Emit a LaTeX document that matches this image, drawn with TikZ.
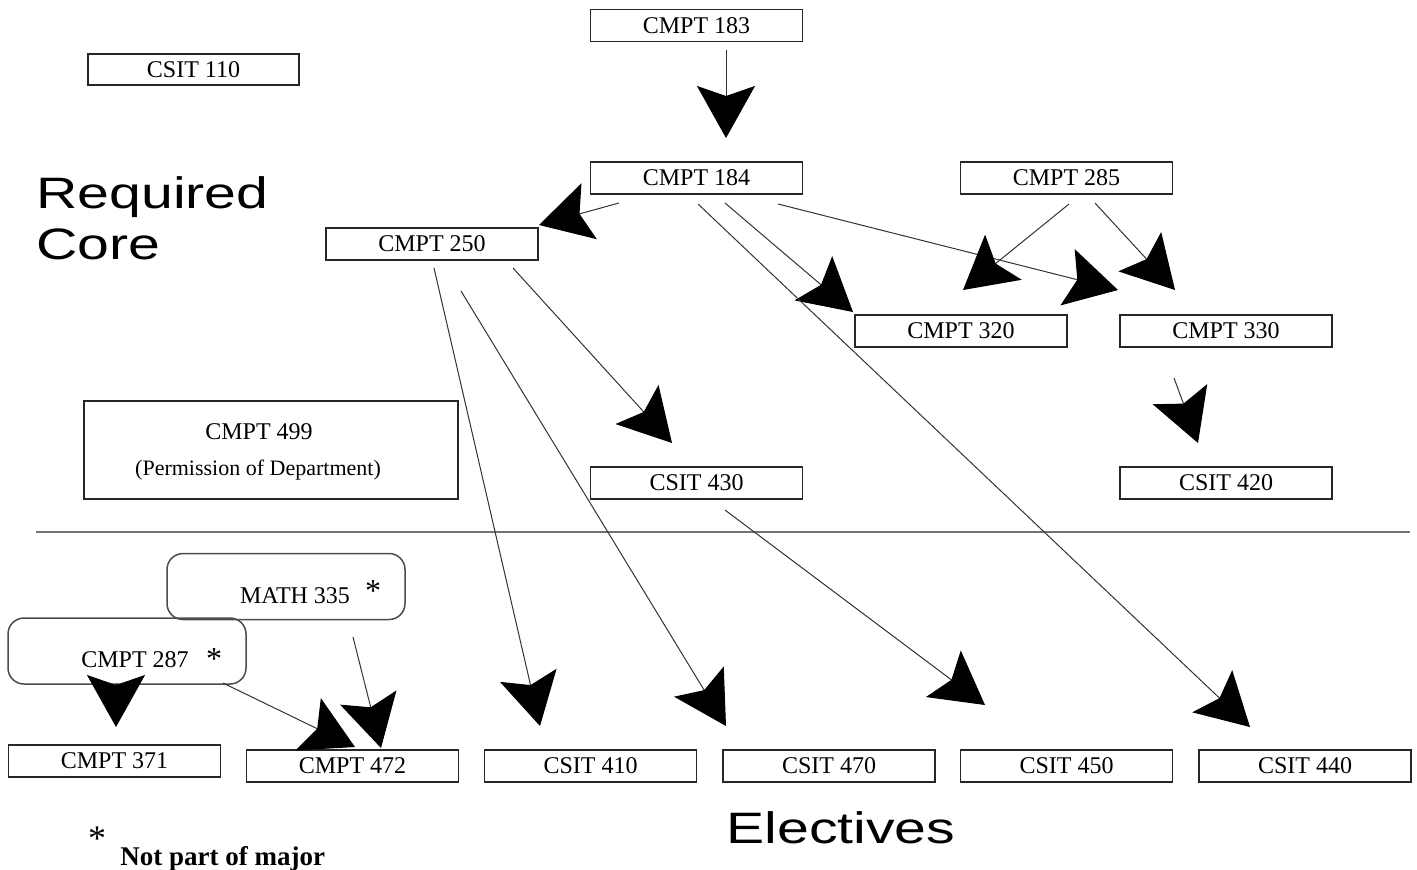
\documentclass[tikz,border=0pt]{standalone}
\usepackage{fontspec}
\setmainfont{Liberation Serif}
\newfontfamily\headfont{Liberation Sans}
\usetikzlibrary{arrows.meta}
\tikzset{
  box/.style={draw=black!85, line width=0.75pt, minimum width=106pt, minimum height=16pt, inner sep=0pt,
              font=\fontsize{12}{14}\selectfont},
  rbox/.style={draw=black!70, line width=0.75pt, rounded corners=8pt, minimum width=119pt, minimum height=33pt, inner sep=0pt},
  lbl/.style={inner sep=0pt, font=\fontsize{12}{14}\selectfont},
  star/.style={inner sep=0pt, anchor=base, font=\fontsize{16}{18}\selectfont},
  head/.style={inner sep=0pt, anchor=base west, font=\headfont\fontsize{22}{26}\selectfont},
  arr/.style={draw=black!80, line width=0.5pt, -{Stealth[length=26pt,width=29pt,inset=5pt,color=black]}},
}
\begin{document}
\begin{tikzpicture}[x=0.5pt,y=-0.5pt]
\useasboundingbox (0,0) rectangle (1417,869);

% headings
\node[head] (req1) at (36,208) {\scalebox{1.3}[1]{Required}};
\node[head] (req2) at (36,259) {\scalebox{1.3}[1]{Core}};
\node[head] (elec) at (726,843) {\scalebox{1.3}[1]{Electives}};

% required core boxes
\node[box, minimum width=105.5pt, minimum height=15.5pt] (c110) at (193.5,69.5) {CSIT 110};
\node[box] (c183) at (696.5,25.5) {CMPT 183};
\node[box] (c184) at (696.5,178) {CMPT 184};
\node[box] (c285) at (1066.5,178) {CMPT 285};
\node[box] (c250) at (432,244) {CMPT 250};
\node[box] (c320) at (961,331) {CMPT 320};
\node[box] (c330) at (1226,331) {CMPT 330};
\node[box, minimum width=187pt, minimum height=49pt] (c499) at (271,450) {};
\node[lbl] (c499a) at (259,432) {CMPT 499};
\node[lbl, font=\fontsize{11}{13}\selectfont] (c499b) at (258,470) {(Permission of Department)};
\node[box] (s430) at (696.5,483) {CSIT 430};
\node[box] (s420) at (1226,483) {CSIT 420};

% separator
\draw[black!55, line width=0.6pt] (36,532) coordinate (sepL) -- (1410,532) coordinate (sepR);

% electives
\node[rbox] (m335) at (286,586.5) {};
\node[lbl] (m335t) at (295,596) {MATH 335};
\node[star] (m335s) at (373,601) {*};
\node[rbox] (c287) at (127,651) {};
\node[lbl] (c287t) at (135,660) {CMPT 287};
\node[star] (c287s) at (214,669) {*};
\node[box] (c371) at (114.5,761) {CMPT 371};
\node[box] (c472) at (352.5,766) {CMPT 472};
\node[box] (s410) at (590.5,766) {CSIT 410};
\node[box] (s470) at (829,766) {CSIT 470};
\node[box] (s450) at (1066.5,766) {CSIT 450};
\node[box] (s440) at (1305,766) {CSIT 440};

% legend
\node[star, font=\fontsize{18}{20}\selectfont] (legs) at (97,850) {*};
\node[inner sep=0pt, anchor=base west, font=\bfseries\fontsize{13.5}{16}\selectfont] (legt) at (120,865) {Not part of major};

% connector end points
\coordinate (a183) at (726,50);   \coordinate (b184) at (726,138);
\coordinate (a184w) at (619,203); \coordinate (b250) at (539,225);
\coordinate (a184c) at (725,203); \coordinate (b320) at (853,312);
\coordinate (a184e) at (778,204); \coordinate (b330) at (1118,290);
\coordinate (a184l) at (698,204); \coordinate (b440) at (1250,727);
\coordinate (a285w) at (1069,204); \coordinate (b320b) at (963,290);
\coordinate (a285e) at (1095,203); \coordinate (b330b) at (1175,290);
\coordinate (a250e) at (513,268); \coordinate (b430) at (672,443);
\coordinate (a250w) at (434,268); \coordinate (b410) at (540,726);
\coordinate (a250c) at (461,291); \coordinate (b470) at (726,726);
\coordinate (a430) at (725,510);  \coordinate (b450) at (985,705);
\coordinate (a330) at (1174,378); \coordinate (b420) at (1198,443);
\coordinate (a287w) at (116,683); \coordinate (b371) at (116,727);
\coordinate (a287e) at (223,683); \coordinate (b472a) at (355,747);
\coordinate (a335) at (353,637);  \coordinate (b472b) at (381,748);

% connectors
\draw[arr] (a183) -- (b184);
\draw[arr] (a184w) -- (b250);
\draw[arr] (a184c) -- (b320);
\draw[arr] (a184e) -- (b330);
\draw[arr] (a184l) -- (b440);
\draw[arr] (a285w) -- (b320b);
\draw[arr] (a285e) -- (b330b);
\draw[arr] (a250e) -- (b430);
\draw[arr] (a250w) -- (b410);
\draw[arr] (a250c) -- (b470);
\draw[arr] (a430) -- (b450);
\draw[arr] (a330) -- (b420);
\draw[arr] (a287w) -- (b371);
\draw[arr] (a287e) -- (b472a);
\draw[arr] (a335) -- (b472b);
\end{tikzpicture}
\end{document}
